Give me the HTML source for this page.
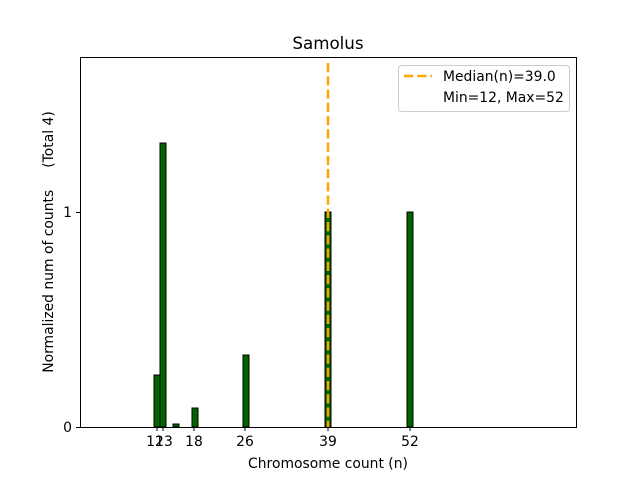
<!DOCTYPE html><html><head><style>body{margin:0;background:#fff}svg text{font-family:"DejaVu Sans","Liberation Sans",sans-serif;fill:#000;white-space:pre}</style></head><body>
<svg width="640" height="480" xmlns="http://www.w3.org/2000/svg" xml:space="preserve">
<rect width="640" height="480" fill="#fff"/>
<g fill="#006400" stroke="#000" stroke-width="1">
<rect x="154" y="375" width="6" height="52"/>
<rect x="160" y="143" width="6" height="284"/>
<rect x="173" y="424" width="6" height="3"/>
<rect x="192" y="408" width="6" height="19"/>
<rect x="243" y="355" width="6" height="72"/>
<rect x="325" y="212" width="6" height="215"/>
<rect x="407" y="212" width="6" height="215"/>
</g>
<line x1="328" y1="63" x2="328" y2="427" stroke="#FFA500" stroke-width="2.5" stroke-dasharray="9.25,4"/>
<rect x="80.5" y="57.5" width="496" height="370" fill="none" stroke="#000" stroke-width="1"/>
<g stroke="#000">
<line x1="157" y1="427" x2="157" y2="431"/><line x1="163" y1="427" x2="163" y2="431"/>
<line x1="194" y1="427" x2="194" y2="431"/><line x1="245" y1="427" x2="245" y2="431"/>
<line x1="328" y1="427" x2="328" y2="431"/><line x1="410" y1="427" x2="410" y2="431"/>
<line x1="76" y1="427.5" x2="80" y2="427.5"/><line x1="76" y1="212.5" x2="80" y2="212.5"/>
</g>
<g font-size="13.9" text-anchor="middle">
<text x="155" y="446">12</text><text x="164" y="446">13</text>
<text x="194" y="446">18</text><text x="245" y="446">26</text>
<text x="328" y="446">39</text><text x="410" y="446">52</text>
<text x="328" y="468">Chromosome count (n)</text>
</g>
<g font-size="13.9" text-anchor="end">
<text x="72" y="432">0</text><text x="72" y="217">1</text>
</g>
<text transform="translate(53,242) rotate(-90)" font-size="13.9" text-anchor="middle">Normalized num of counts     (Total 4)</text>
<text x="328" y="49" font-size="16.7" text-anchor="middle">Samolus</text>
<rect x="398.5" y="65.5" width="171" height="46" rx="3" fill="#fff" fill-opacity="0.8" stroke="#ccc"/>
<line x1="404" y1="76" x2="432" y2="76" stroke="#FFA500" stroke-width="2.5" stroke-dasharray="9.25,4"/>
<g font-size="13.9"><text x="443" y="81">Median(n)=39.0</text><text x="443" y="102">Min=12, Max=52</text></g>
</svg></body></html>
